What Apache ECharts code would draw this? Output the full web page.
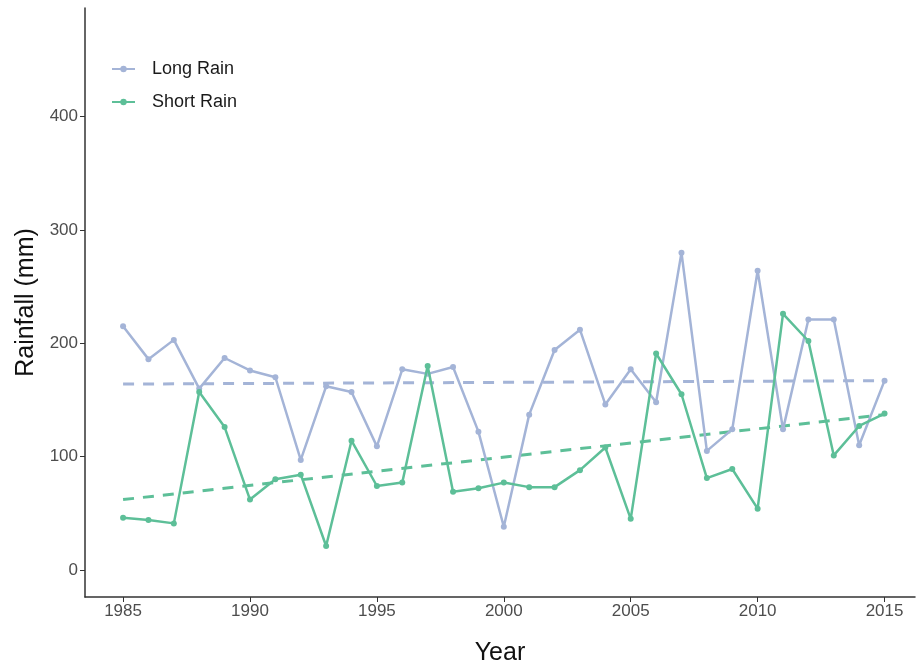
<!DOCTYPE html>
<html><head><meta charset="utf-8">
<script src="https://cdn.jsdelivr.net/npm/echarts@6/dist/echarts.min.js"></script>
<style>html,body{margin:0;padding:0;background:#fff}#c{width:920px;height:671px}</style>
</head><body><div id="c"></div>
<script>
const years = [1985,1986,1987,1988,1989,1990,1991,1992,1993,1994,1995,1996,1997,1998,1999,2000,2001,2002,2003,2004,2005,2006,2007,2008,2009,2010,2011,2012,2013,2014,2015];
const longRain = [215,186,203,160,187,176,170,97,162,157,109,177,173,179,122,38,137,194,212,146,177,148,280,105,124,264,124,221,221,110,167];
const shortRain = [46,44,41,157,126,62,80,84,21,114,74,77,180,69,72,77,73,73,88,108,45,191,155,81,89,54,226,202,101,127,138];
const trendYears = [1985,2015];
const longTrend = [164,167];
const shortTrend = [62,137];
const xTicks = [1985,1990,1995,2000,2005,2010,2015];
const yTicks = [0,100,200,300,400];

const pair = (xs, ys) => xs.map((x,i)=>[x,ys[i]]);
const blue = '#a4b4d7', green = '#5dbf98';
const font = 'Liberation Sans, Arial';
const chart = echarts.init(document.getElementById('c'));
chart.setOption({
  animation:false,
  backgroundColor:'#fff',
  grid:{left:85,right:5,top:8,bottom:74,outerBoundsMode:'none',containLabel:false},
  legend:{
    left:106, top:55, orient:'vertical', itemGap:15, itemWidth:23, itemHeight:8,
    textStyle:{fontSize:18,color:'#1a1a1a',fontFamily:font,padding:[0,0,0,12]},
    data:['Long Rain','Short Rain']
  },
  xAxis:{
    type:'value', min:1983.5, max:2016.2,
    name:'Year', nameLocation:'middle', nameGap:44,
    nameTextStyle:{fontSize:25,color:'#111',fontFamily:font},
    axisLine:{show:true,onZero:false,lineStyle:{color:'#333',width:1.5}},
    axisTick:{show:true,length:5,lineStyle:{color:'#333'},customValues:xTicks},
    axisLabel:{fontSize:17,color:'#4d4d4d',fontFamily:font,margin:6,customValues:xTicks,formatter:v=>String(v)},
    splitLine:{show:false}
  },
  yAxis:{
    type:'value', min:-24, max:496,
    name:'Rainfall (mm)', nameLocation:'middle', nameGap:46, nameRotate:90,
    nameTextStyle:{fontSize:25,color:'#111',fontFamily:font},
    axisLine:{show:true,onZero:false,lineStyle:{color:'#333',width:1.5}},
    axisTick:{show:true,length:5,lineStyle:{color:'#333'},customValues:yTicks},
    axisLabel:{fontSize:17,color:'#4d4d4d',fontFamily:font,margin:7,customValues:yTicks,formatter:v=>String(v)},
    splitLine:{show:false}
  },
  series:[
    {name:'Long Rain',type:'line',data:pair(years,longRain),color:blue,
     symbol:'circle',symbolSize:6,lineStyle:{width:2.5,color:blue},itemStyle:{color:blue},z:3},
    {name:'Short Rain',type:'line',data:pair(years,shortRain),color:green,
     symbol:'circle',symbolSize:6,lineStyle:{width:2.5,color:green},itemStyle:{color:green},z:4},
    {name:'Long trend',type:'line',data:pair(trendYears,longTrend),symbol:'none',
     lineStyle:{width:3,color:blue,type:[11,9]},z:2,silent:true},
    {name:'Short trend',type:'line',data:pair(trendYears,shortTrend),symbol:'none',
     lineStyle:{width:3,color:green,type:[11,9]},z:2,silent:true}
  ]
});
</script></body></html>
